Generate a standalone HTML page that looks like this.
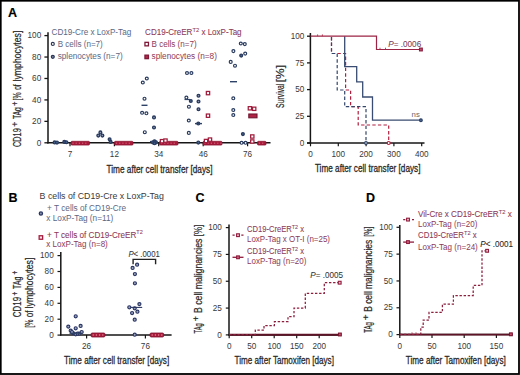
<!DOCTYPE html>
<html><head><meta charset="utf-8"><style>
html,body{margin:0;padding:0;background:#fff;}
svg{display:block;font-family:"Liberation Sans", sans-serif;}
</style></head><body>
<svg width="520" height="375" viewBox="0 0 520 375">
<rect width="520" height="375" fill="#fff"/>
<text x="8" y="16.8" font-size="12.5" fill="#000" stroke="#000" stroke-width="0.15" text-anchor="start" font-weight="bold" font-style="normal" >A</text>
<line x1="48" y1="32.3" x2="48" y2="143.4" stroke="#161616" stroke-width="1.5"/>
<line x1="47.3" y1="142.8" x2="270.5" y2="142.8" stroke="#161616" stroke-width="1.5"/>
<line x1="44.4" y1="142.8" x2="48" y2="142.8" stroke="#161616" stroke-width="1.3"/>
<text x="41.2" y="145.5" font-size="9.8" fill="#383838" text-anchor="end" font-weight="normal" font-style="normal" textLength="4.55" lengthAdjust="spacingAndGlyphs" >0</text>
<line x1="44.4" y1="121.36000000000001" x2="48" y2="121.36000000000001" stroke="#161616" stroke-width="1.3"/>
<text x="41.2" y="124.06000000000002" font-size="9.8" fill="#383838" text-anchor="end" font-weight="normal" font-style="normal" textLength="9.1" lengthAdjust="spacingAndGlyphs" >20</text>
<line x1="44.4" y1="99.92" x2="48" y2="99.92" stroke="#161616" stroke-width="1.3"/>
<text x="41.2" y="102.62" font-size="9.8" fill="#383838" text-anchor="end" font-weight="normal" font-style="normal" textLength="9.1" lengthAdjust="spacingAndGlyphs" >40</text>
<line x1="44.4" y1="78.48" x2="48" y2="78.48" stroke="#161616" stroke-width="1.3"/>
<text x="41.2" y="81.18" font-size="9.8" fill="#383838" text-anchor="end" font-weight="normal" font-style="normal" textLength="9.1" lengthAdjust="spacingAndGlyphs" >60</text>
<line x1="44.4" y1="57.03999999999999" x2="48" y2="57.03999999999999" stroke="#161616" stroke-width="1.3"/>
<text x="41.2" y="59.739999999999995" font-size="9.8" fill="#383838" text-anchor="end" font-weight="normal" font-style="normal" textLength="9.1" lengthAdjust="spacingAndGlyphs" >80</text>
<line x1="44.4" y1="35.599999999999994" x2="48" y2="35.599999999999994" stroke="#161616" stroke-width="1.3"/>
<text x="41.2" y="38.3" font-size="9.8" fill="#383838" text-anchor="end" font-weight="normal" font-style="normal" textLength="13.65" lengthAdjust="spacingAndGlyphs" >100</text>
<line x1="70" y1="142.8" x2="70" y2="146.3" stroke="#161616" stroke-width="1.2"/>
<text x="70" y="156.7" font-size="9.8" fill="#383838" text-anchor="middle" font-weight="normal" font-style="normal" textLength="4.55" lengthAdjust="spacingAndGlyphs" >7</text>
<line x1="114.4" y1="142.8" x2="114.4" y2="146.3" stroke="#161616" stroke-width="1.2"/>
<text x="114.4" y="156.7" font-size="9.8" fill="#383838" text-anchor="middle" font-weight="normal" font-style="normal" textLength="9.1" lengthAdjust="spacingAndGlyphs" >12</text>
<line x1="158.7" y1="142.8" x2="158.7" y2="146.3" stroke="#161616" stroke-width="1.2"/>
<text x="158.7" y="156.7" font-size="9.8" fill="#383838" text-anchor="middle" font-weight="normal" font-style="normal" textLength="9.1" lengthAdjust="spacingAndGlyphs" >34</text>
<line x1="203.2" y1="142.8" x2="203.2" y2="146.3" stroke="#161616" stroke-width="1.2"/>
<text x="203.2" y="156.7" font-size="9.8" fill="#383838" text-anchor="middle" font-weight="normal" font-style="normal" textLength="9.1" lengthAdjust="spacingAndGlyphs" >46</text>
<line x1="247.6" y1="142.8" x2="247.6" y2="146.3" stroke="#161616" stroke-width="1.2"/>
<text x="247.6" y="156.7" font-size="9.8" fill="#383838" text-anchor="middle" font-weight="normal" font-style="normal" textLength="9.1" lengthAdjust="spacingAndGlyphs" >76</text>
<text x="106.5" y="172.7" font-size="10.8" fill="#2a2a2a" stroke="#2a2a2a" stroke-width="0.3" text-anchor="start" font-weight="normal" font-style="normal" textLength="106" lengthAdjust="spacingAndGlyphs" >Time after cell transfer [days]</text>
<text transform="translate(20.8,146.9) rotate(-90)" font-size="10.5" fill="#2a2a2a" stroke="#2a2a2a" stroke-width="0.22"><tspan x="0" y="0" textLength="18.6" lengthAdjust="spacingAndGlyphs">CD19</tspan><tspan x="20.2" y="-3.15" font-size="8.92" textLength="5.0" lengthAdjust="spacingAndGlyphs">+</tspan><tspan x="27.8" y="0" textLength="11.999999999999996" lengthAdjust="spacingAndGlyphs">TAg</tspan><tspan x="41.2" y="-3.15" font-size="8.92" textLength="4.199999999999996" lengthAdjust="spacingAndGlyphs">+</tspan><tspan x="46.5" y="0" textLength="8.0" lengthAdjust="spacingAndGlyphs">[%</tspan><tspan x="57.1" y="0" textLength="5.399999999999999" lengthAdjust="spacingAndGlyphs">of</tspan><tspan x="65.5" y="0" textLength="50.7" lengthAdjust="spacingAndGlyphs">lymphocytes]</tspan></text>
<text x="51.5" y="34.7" font-size="8.5" fill="#5a6784" text-anchor="start" font-weight="normal" font-style="normal" textLength="79.7" lengthAdjust="spacingAndGlyphs" >CD19-Cre x LoxP-Tag</text>
<circle cx="52.8" cy="43.9" r="1.5" fill="#fff" stroke="#2a3556" stroke-width="1.15"/>
<text x="57.7" y="46.5" font-size="8.5" fill="#5a6784" text-anchor="start" font-weight="normal" font-style="normal" textLength="45.1" lengthAdjust="spacingAndGlyphs" >B cells (n=7)</text>
<circle cx="52.8" cy="56.8" r="1.5" fill="#7a86a4" stroke="#2a3556" stroke-width="1.15"/>
<text x="57.7" y="58.9" font-size="8.5" fill="#5a6784" text-anchor="start" font-weight="normal" font-style="normal" textLength="65" lengthAdjust="spacingAndGlyphs" >splenocytes (n=7)</text>
<text x="145.1" y="34.7" font-size="8.5" fill="#8c3a58" stroke="#8c3a58" stroke-width="0.08" textLength="96.5" lengthAdjust="spacingAndGlyphs">CD19-CreER<tspan dy="-3.06" font-size="6.12">T2</tspan><tspan dy="3.06"> x LoxP-Tag</tspan></text>
<rect x="144.95" y="42.35" width="3.5" height="3.5" fill="#fff" stroke="#7e1a38" stroke-width="1.3"/>
<text x="151.5" y="46.5" font-size="8.5" fill="#8c3a58" text-anchor="start" font-weight="normal" font-style="normal" textLength="45.1" lengthAdjust="spacingAndGlyphs" >B cells (n=7)</text>
<rect x="144.95" y="55.15" width="3.5" height="3.5" fill="#b02a48" stroke="#7e1a38" stroke-width="1.3"/>
<text x="151.5" y="58.9" font-size="8.5" fill="#8c3a58" text-anchor="start" font-weight="normal" font-style="normal" textLength="65.4" lengthAdjust="spacingAndGlyphs" >splenocytes (n=8)</text>
<circle cx="142.8" cy="82.5" r="1.45" fill="#fff" stroke="#283a5e" stroke-width="1.2"/>
<circle cx="146.8" cy="78.5" r="1.45" fill="#fff" stroke="#283a5e" stroke-width="1.2"/>
<circle cx="144.5" cy="98.7" r="1.45" fill="#fff" stroke="#283a5e" stroke-width="1.2"/>
<circle cx="142.1" cy="112.8" r="1.45" fill="#fff" stroke="#283a5e" stroke-width="1.2"/>
<circle cx="146.4" cy="113.3" r="1.45" fill="#fff" stroke="#283a5e" stroke-width="1.2"/>
<circle cx="144.8" cy="132.2" r="1.45" fill="#fff" stroke="#283a5e" stroke-width="1.2"/>
<circle cx="187.0" cy="73" r="1.45" fill="#fff" stroke="#283a5e" stroke-width="1.2"/>
<circle cx="191.4" cy="73" r="1.45" fill="#fff" stroke="#283a5e" stroke-width="1.2"/>
<circle cx="186.4" cy="97.6" r="1.45" fill="#fff" stroke="#283a5e" stroke-width="1.2"/>
<circle cx="188.9" cy="106.7" r="1.45" fill="#fff" stroke="#283a5e" stroke-width="1.2"/>
<circle cx="188.8" cy="120.5" r="1.45" fill="#fff" stroke="#283a5e" stroke-width="1.2"/>
<circle cx="188.8" cy="132.9" r="1.45" fill="#fff" stroke="#283a5e" stroke-width="1.2"/>
<circle cx="240.8" cy="43.5" r="1.45" fill="#fff" stroke="#283a5e" stroke-width="1.2"/>
<circle cx="244.8" cy="44.1" r="1.45" fill="#fff" stroke="#283a5e" stroke-width="1.2"/>
<circle cx="233.4" cy="51.1" r="1.45" fill="#fff" stroke="#283a5e" stroke-width="1.2"/>
<circle cx="245.2" cy="53.6" r="1.45" fill="#fff" stroke="#283a5e" stroke-width="1.2"/>
<circle cx="230.7" cy="61.9" r="1.45" fill="#fff" stroke="#283a5e" stroke-width="1.2"/>
<circle cx="235" cy="65.7" r="1.45" fill="#fff" stroke="#283a5e" stroke-width="1.2"/>
<circle cx="233.3" cy="98.3" r="1.45" fill="#fff" stroke="#283a5e" stroke-width="1.2"/>
<circle cx="233.3" cy="110" r="1.45" fill="#fff" stroke="#283a5e" stroke-width="1.2"/>
<circle cx="233.3" cy="115" r="1.45" fill="#fff" stroke="#283a5e" stroke-width="1.2"/>
<circle cx="241.6" cy="142.8" r="1.45" fill="#fff" stroke="#283a5e" stroke-width="1.2"/>
<circle cx="245.6" cy="142.8" r="1.45" fill="#fff" stroke="#283a5e" stroke-width="1.2"/>
<circle cx="54.6" cy="142.4" r="1.4" fill="#4a6590" stroke="#283a5e" stroke-width="1.3"/>
<circle cx="57.0" cy="142.6" r="1.4" fill="#4a6590" stroke="#283a5e" stroke-width="1.3"/>
<circle cx="64.3" cy="141.9" r="1.4" fill="#4a6590" stroke="#283a5e" stroke-width="1.3"/>
<circle cx="66.4" cy="142.2" r="1.4" fill="#4a6590" stroke="#283a5e" stroke-width="1.3"/>
<circle cx="100.4" cy="132.4" r="1.4" fill="#8a94b4" stroke="#283a5e" stroke-width="1.3"/>
<circle cx="98.3" cy="135.6" r="1.4" fill="#8a94b4" stroke="#283a5e" stroke-width="1.3"/>
<circle cx="102.4" cy="135.6" r="1.4" fill="#8a94b4" stroke="#283a5e" stroke-width="1.3"/>
<circle cx="109.6" cy="139.3" r="1.4" fill="#4a6590" stroke="#283a5e" stroke-width="1.3"/>
<circle cx="110.6" cy="141.9" r="1.4" fill="#4a6590" stroke="#283a5e" stroke-width="1.3"/>
<circle cx="154" cy="117.4" r="1.4" fill="#8a94b4" stroke="#283a5e" stroke-width="1.3"/>
<circle cx="154" cy="127.5" r="1.4" fill="#8a94b4" stroke="#283a5e" stroke-width="1.3"/>
<circle cx="154.5" cy="141.2" r="1.4" fill="#4a6590" stroke="#283a5e" stroke-width="1.3"/>
<circle cx="153" cy="142.4" r="1.4" fill="#4a6590" stroke="#283a5e" stroke-width="1.3"/>
<circle cx="156" cy="142.4" r="1.4" fill="#4a6590" stroke="#283a5e" stroke-width="1.3"/>
<circle cx="154.5" cy="143.2" r="1.4" fill="#4a6590" stroke="#283a5e" stroke-width="1.3"/>
<circle cx="190.8" cy="101" r="1.4" fill="#4a6590" stroke="#283a5e" stroke-width="1.3"/>
<circle cx="198.5" cy="95.7" r="1.4" fill="#8a94b4" stroke="#283a5e" stroke-width="1.3"/>
<circle cx="198.5" cy="101.5" r="1.4" fill="#8a94b4" stroke="#283a5e" stroke-width="1.3"/>
<circle cx="198.5" cy="109.2" r="1.4" fill="#8a94b4" stroke="#283a5e" stroke-width="1.3"/>
<circle cx="198.3" cy="123.5" r="1.4" fill="#8a94b4" stroke="#283a5e" stroke-width="1.3"/>
<circle cx="198.3" cy="142.6" r="1.4" fill="#4a6590" stroke="#283a5e" stroke-width="1.3"/>
<circle cx="241.2" cy="55.6" r="1.4" fill="#4a6590" stroke="#283a5e" stroke-width="1.3"/>
<circle cx="242.9" cy="134.1" r="1.4" fill="#4a6590" stroke="#283a5e" stroke-width="1.3"/>
<line x1="141.5" y1="105.3" x2="147.5" y2="105.3" stroke="#2d4266" stroke-width="1.4"/>
<line x1="195" y1="123.6" x2="202" y2="123.6" stroke="#2d4266" stroke-width="1.4"/>
<line x1="230" y1="81.7" x2="237" y2="81.7" stroke="#2d4266" stroke-width="1.4"/>
<line x1="150" y1="141.6" x2="157" y2="141.6" stroke="#2d4266" stroke-width="1.4"/>
<line x1="184.5" y1="99.5" x2="190" y2="99.5" stroke="#2d4266" stroke-width="1.2"/>
<rect x="71" y="141.3" width="18.5" height="3.8" rx="0.9" fill="#a81a3a" stroke="#8a1430" stroke-width="0.7"/>
<rect x="72.4" y="142.6" width="1.2" height="1.2" fill="#d05a74"/>
<rect x="75.60000000000001" y="142.6" width="1.2" height="1.2" fill="#d05a74"/>
<rect x="78.80000000000001" y="142.6" width="1.2" height="1.2" fill="#d05a74"/>
<rect x="82.00000000000001" y="142.6" width="1.2" height="1.2" fill="#d05a74"/>
<rect x="85.20000000000002" y="142.6" width="1.2" height="1.2" fill="#d05a74"/>
<rect x="114.5" y="141.3" width="18.5" height="3.8" rx="0.9" fill="#a81a3a" stroke="#8a1430" stroke-width="0.7"/>
<rect x="115.9" y="142.6" width="1.2" height="1.2" fill="#d05a74"/>
<rect x="119.10000000000001" y="142.6" width="1.2" height="1.2" fill="#d05a74"/>
<rect x="122.30000000000001" y="142.6" width="1.2" height="1.2" fill="#d05a74"/>
<rect x="125.50000000000001" y="142.6" width="1.2" height="1.2" fill="#d05a74"/>
<rect x="128.70000000000002" y="142.6" width="1.2" height="1.2" fill="#d05a74"/>
<rect x="159.5" y="141.3" width="18.5" height="3.8" rx="0.9" fill="#a81a3a" stroke="#8a1430" stroke-width="0.7"/>
<rect x="160.9" y="142.6" width="1.2" height="1.2" fill="#d05a74"/>
<rect x="164.1" y="142.6" width="1.2" height="1.2" fill="#d05a74"/>
<rect x="167.29999999999998" y="142.6" width="1.2" height="1.2" fill="#d05a74"/>
<rect x="170.49999999999997" y="142.6" width="1.2" height="1.2" fill="#d05a74"/>
<rect x="173.69999999999996" y="142.6" width="1.2" height="1.2" fill="#d05a74"/>
<rect x="203" y="141.3" width="19" height="3.8" rx="0.9" fill="#a81a3a" stroke="#8a1430" stroke-width="0.7"/>
<rect x="204.4" y="142.6" width="1.2" height="1.2" fill="#d05a74"/>
<rect x="207.6" y="142.6" width="1.2" height="1.2" fill="#d05a74"/>
<rect x="210.79999999999998" y="142.6" width="1.2" height="1.2" fill="#d05a74"/>
<rect x="213.99999999999997" y="142.6" width="1.2" height="1.2" fill="#d05a74"/>
<rect x="217.19999999999996" y="142.6" width="1.2" height="1.2" fill="#d05a74"/>
<rect x="220.39999999999995" y="142.6" width="1.2" height="1.2" fill="#d05a74"/>
<rect x="257.5" y="141.3" width="8.5" height="3.8" rx="0.9" fill="#a81a3a" stroke="#8a1430" stroke-width="0.7"/>
<rect x="258.9" y="142.6" width="1.2" height="1.2" fill="#d05a74"/>
<rect x="262.09999999999997" y="142.6" width="1.2" height="1.2" fill="#d05a74"/>
<rect x="206.35" y="91.44999999999999" width="3.3" height="3.3" fill="#fff" stroke="#a01c3c" stroke-width="1.25"/>
<rect x="206.35" y="114.05" width="3.3" height="3.3" fill="#fff" stroke="#a01c3c" stroke-width="1.25"/>
<rect x="248.25" y="106.64999999999999" width="3.3" height="3.3" fill="#fff" stroke="#a01c3c" stroke-width="1.25"/>
<rect x="252.54999999999998" y="107.14999999999999" width="3.3" height="3.3" fill="#fff" stroke="#a01c3c" stroke-width="1.25"/>
<rect x="250.65" y="134.85" width="3.3" height="3.3" fill="#fff" stroke="#a01c3c" stroke-width="1.25"/>
<rect x="250.65" y="139.85" width="3.3" height="3.3" fill="#fff" stroke="#a01c3c" stroke-width="1.25"/>
<rect x="160.35" y="139.54999999999998" width="3.3" height="3.3" fill="#fff" stroke="#a01c3c" stroke-width="1.25"/>
<rect x="163.85" y="138.95" width="3.3" height="3.3" fill="#fff" stroke="#a01c3c" stroke-width="1.25"/>
<rect x="204.35" y="139.35" width="3.3" height="3.3" fill="#fff" stroke="#a01c3c" stroke-width="1.25"/>
<rect x="208.35" y="137.95" width="3.3" height="3.3" fill="#fff" stroke="#a01c3c" stroke-width="1.25"/>
<rect x="248.8" y="114.0" width="8.2" height="3.8" fill="#b02244" stroke="#701630" stroke-width="1.1"/>
<line x1="310.4" y1="33" x2="310.4" y2="143.6" stroke="#161616" stroke-width="1.5"/>
<line x1="307" y1="143" x2="424.5" y2="143" stroke="#161616" stroke-width="1.5"/>
<line x1="307" y1="143.0" x2="310.4" y2="143.0" stroke="#161616" stroke-width="1.3"/>
<text x="304.3" y="145.7" font-size="9.8" fill="#383838" text-anchor="end" font-weight="normal" font-style="normal" textLength="4.55" lengthAdjust="spacingAndGlyphs" >0</text>
<line x1="307" y1="116.3" x2="310.4" y2="116.3" stroke="#161616" stroke-width="1.3"/>
<text x="304.3" y="119.0" font-size="9.8" fill="#383838" text-anchor="end" font-weight="normal" font-style="normal" textLength="9.1" lengthAdjust="spacingAndGlyphs" >25</text>
<line x1="307" y1="89.6" x2="310.4" y2="89.6" stroke="#161616" stroke-width="1.3"/>
<text x="304.3" y="92.3" font-size="9.8" fill="#383838" text-anchor="end" font-weight="normal" font-style="normal" textLength="9.1" lengthAdjust="spacingAndGlyphs" >50</text>
<line x1="307" y1="62.89999999999999" x2="310.4" y2="62.89999999999999" stroke="#161616" stroke-width="1.3"/>
<text x="304.3" y="65.6" font-size="9.8" fill="#383838" text-anchor="end" font-weight="normal" font-style="normal" textLength="9.1" lengthAdjust="spacingAndGlyphs" >75</text>
<line x1="307" y1="36.19999999999999" x2="310.4" y2="36.19999999999999" stroke="#161616" stroke-width="1.3"/>
<text x="304.3" y="38.89999999999999" font-size="9.8" fill="#383838" text-anchor="end" font-weight="normal" font-style="normal" textLength="13.65" lengthAdjust="spacingAndGlyphs" >100</text>
<line x1="310.5" y1="143" x2="310.5" y2="146.3" stroke="#161616" stroke-width="1.2"/>
<text x="310.5" y="156.7" font-size="9.8" fill="#383838" text-anchor="middle" font-weight="normal" font-style="normal" textLength="4.55" lengthAdjust="spacingAndGlyphs" >0</text>
<line x1="338.3" y1="143" x2="338.3" y2="146.3" stroke="#161616" stroke-width="1.2"/>
<text x="338.3" y="156.7" font-size="9.8" fill="#383838" text-anchor="middle" font-weight="normal" font-style="normal" textLength="13.65" lengthAdjust="spacingAndGlyphs" >100</text>
<line x1="366.1" y1="143" x2="366.1" y2="146.3" stroke="#161616" stroke-width="1.2"/>
<text x="366.1" y="156.7" font-size="9.8" fill="#383838" text-anchor="middle" font-weight="normal" font-style="normal" textLength="13.65" lengthAdjust="spacingAndGlyphs" >200</text>
<line x1="393.9" y1="143" x2="393.9" y2="146.3" stroke="#161616" stroke-width="1.2"/>
<text x="393.9" y="156.7" font-size="9.8" fill="#383838" text-anchor="middle" font-weight="normal" font-style="normal" textLength="13.65" lengthAdjust="spacingAndGlyphs" >300</text>
<line x1="421.70000000000005" y1="143" x2="421.70000000000005" y2="146.3" stroke="#161616" stroke-width="1.2"/>
<text x="421.70000000000005" y="156.7" font-size="9.8" fill="#383838" text-anchor="middle" font-weight="normal" font-style="normal" textLength="13.65" lengthAdjust="spacingAndGlyphs" >400</text>
<text x="314.9" y="172.4" font-size="10.8" fill="#2a2a2a" stroke="#2a2a2a" stroke-width="0.3" text-anchor="start" font-weight="normal" font-style="normal" textLength="105.6" lengthAdjust="spacingAndGlyphs" >Time after cell transfer [days]</text>
<text transform="translate(283.6,107.9) rotate(-90)" font-size="10.5" fill="#2a2a2a" stroke="#2a2a2a" stroke-width="0.22"><tspan x="0" y="0" textLength="24.3" lengthAdjust="spacingAndGlyphs">Survival</tspan><tspan x="25.7" y="0" textLength="17.3" lengthAdjust="spacingAndGlyphs">[%]</tspan></text>
<polyline points="331.5,37 331.5,53.5 345.6,53.5 345.6,90 350.6,90 350.6,106.7 358.2,106.7 358.2,125 388.7,125 388.7,141.3" fill="none" stroke="#b21f3e" stroke-width="1.2" stroke-dasharray="3.4,2.2" stroke-linejoin="miter"/>
<polyline points="331.5,37 331.5,53.5 337.2,53.5 337.2,90 344.7,90 344.7,106.7 366,106.7 366,141.3" fill="none" stroke="#34466a" stroke-width="1.2" stroke-dasharray="3.4,2.2" stroke-linejoin="miter"/>
<polyline points="344.7,36.2 344.7,66.6 356.7,66.6 356.7,81.9 362.7,81.9 362.7,97 372.5,97 372.5,120.2 420.5,120.2" fill="none" stroke="#3a4c72" stroke-width="1.3" stroke-linejoin="miter"/>
<polyline points="310.5,36.2 376.5,36.2 376.5,49.5 420.5,49.5" fill="none" stroke="#9c2444" stroke-width="1.2" stroke-linejoin="miter"/>
<line x1="317.6" y1="34.400000000000006" x2="317.6" y2="36.2" stroke="#b3213f" stroke-width="0.8"/>
<line x1="322.4" y1="34.400000000000006" x2="322.4" y2="36.2" stroke="#b3213f" stroke-width="0.8"/>
<line x1="380" y1="47.7" x2="380" y2="49.5" stroke="#b3213f" stroke-width="0.8"/>
<line x1="385.5" y1="47.7" x2="385.5" y2="49.5" stroke="#b3213f" stroke-width="0.8"/>
<rect x="419.5" y="48.1" width="2.8" height="2.8" fill="#c05070" stroke="#8a1c3c" stroke-width="1.1"/>
<circle cx="420.9" cy="120.2" r="1.35" fill="#5873a0" stroke="#2d4266" stroke-width="1.2"/>
<circle cx="366" cy="143" r="1.35" fill="#fff" stroke="#2d4266" stroke-width="1.2"/>
<circle cx="388.7" cy="143" r="1.5" fill="#fff" stroke="#b3213f" stroke-width="1.2"/>
<text x="388.2" y="46.6" font-size="8.2" fill="#7a3a55" stroke="#7a3a55" stroke-width="0.05" textLength="33" lengthAdjust="spacingAndGlyphs"><tspan font-style="italic">P</tspan>= .0006</text>
<text x="411.6" y="117.2" font-size="8" fill="#666" text-anchor="start" font-weight="normal" font-style="normal" textLength="8.2" lengthAdjust="spacingAndGlyphs" >ns</text>
<text x="8.4" y="202" font-size="12.5" fill="#000" stroke="#000" stroke-width="0.15" text-anchor="start" font-weight="bold" font-style="normal" >B</text>
<text x="39.6" y="199" font-size="9" fill="#3a3a3a" text-anchor="start" font-weight="normal" font-style="normal" textLength="124.2" lengthAdjust="spacingAndGlyphs" >B cells of CD19-Cre x LoxP-Tag</text>
<circle cx="40.9" cy="213.5" r="1.6" fill="#8a94b4" stroke="#2a3562" stroke-width="1.35"/>
<text x="47.1" y="211.1" font-size="8.5" fill="#5a6784" text-anchor="start" font-weight="normal" font-style="normal" textLength="79" lengthAdjust="spacingAndGlyphs" >+ T cells of CD19-Cre</text>
<text x="46.3" y="220.8" font-size="8.5" fill="#5a6784" text-anchor="start" font-weight="normal" font-style="normal" textLength="67" lengthAdjust="spacingAndGlyphs" >x LoxP-Tag (n=11)</text>
<rect x="39.15" y="235.75" width="3.5" height="3.5" fill="#fbe4ea" stroke="#a51d3e" stroke-width="1.3"/>
<text x="47.1" y="237.6" font-size="8.5" fill="#8c3a58" stroke="#8c3a58" stroke-width="0.08" textLength="95.7" lengthAdjust="spacingAndGlyphs">+ T cells of CD19-CreER<tspan dy="-3.23" font-size="5.78">T2</tspan><tspan dy="3.23"></tspan></text>
<text x="46.3" y="246.5" font-size="8.5" fill="#8c3a58" text-anchor="start" font-weight="normal" font-style="normal" textLength="61.5" lengthAdjust="spacingAndGlyphs" >x LoxP-Tag (n=8)</text>
<line x1="60.8" y1="252.1" x2="60.8" y2="335.4" stroke="#161616" stroke-width="1.5"/>
<line x1="60.1" y1="335.1" x2="171.6" y2="335.1" stroke="#161616" stroke-width="1.5"/>
<line x1="57.5" y1="335.1" x2="60.8" y2="335.1" stroke="#161616" stroke-width="1.2"/>
<text x="53.7" y="337.8" font-size="9.8" fill="#383838" text-anchor="end" font-weight="normal" font-style="normal" textLength="4.55" lengthAdjust="spacingAndGlyphs" >0</text>
<line x1="57.5" y1="319.20000000000005" x2="60.8" y2="319.20000000000005" stroke="#161616" stroke-width="1.2"/>
<text x="53.7" y="321.90000000000003" font-size="9.8" fill="#383838" text-anchor="end" font-weight="normal" font-style="normal" textLength="9.1" lengthAdjust="spacingAndGlyphs" >20</text>
<line x1="57.5" y1="303.3" x2="60.8" y2="303.3" stroke="#161616" stroke-width="1.2"/>
<text x="53.7" y="306.0" font-size="9.8" fill="#383838" text-anchor="end" font-weight="normal" font-style="normal" textLength="9.1" lengthAdjust="spacingAndGlyphs" >40</text>
<line x1="57.5" y1="287.4" x2="60.8" y2="287.4" stroke="#161616" stroke-width="1.2"/>
<text x="53.7" y="290.09999999999997" font-size="9.8" fill="#383838" text-anchor="end" font-weight="normal" font-style="normal" textLength="9.1" lengthAdjust="spacingAndGlyphs" >60</text>
<line x1="57.5" y1="271.5" x2="60.8" y2="271.5" stroke="#161616" stroke-width="1.2"/>
<text x="53.7" y="274.2" font-size="9.8" fill="#383838" text-anchor="end" font-weight="normal" font-style="normal" textLength="9.1" lengthAdjust="spacingAndGlyphs" >80</text>
<line x1="57.5" y1="255.6" x2="60.8" y2="255.6" stroke="#161616" stroke-width="1.2"/>
<text x="53.7" y="258.3" font-size="9.8" fill="#383838" text-anchor="end" font-weight="normal" font-style="normal" textLength="13.65" lengthAdjust="spacingAndGlyphs" >100</text>
<line x1="86.6" y1="335.1" x2="86.6" y2="338.5" stroke="#161616" stroke-width="1.2"/>
<text x="86.6" y="348.59999999999997" font-size="9.8" fill="#383838" text-anchor="middle" font-weight="normal" font-style="normal" textLength="9.1" lengthAdjust="spacingAndGlyphs" >26</text>
<line x1="145.4" y1="335.1" x2="145.4" y2="338.5" stroke="#161616" stroke-width="1.2"/>
<text x="145.4" y="348.59999999999997" font-size="9.8" fill="#383838" text-anchor="middle" font-weight="normal" font-style="normal" textLength="9.1" lengthAdjust="spacingAndGlyphs" >76</text>
<text x="64" y="364" font-size="10.8" fill="#2a2a2a" stroke="#2a2a2a" stroke-width="0.3" text-anchor="start" font-weight="normal" font-style="normal" textLength="105.2" lengthAdjust="spacingAndGlyphs" >Time after cell transfer [days]</text>
<text transform="translate(20.9,317.2) rotate(-90)" font-size="11" fill="#2a2a2a" stroke="#2a2a2a" stroke-width="0.22"><tspan x="0" y="0" textLength="20.3" lengthAdjust="spacingAndGlyphs">CD19</tspan><tspan x="21.6" y="-3.30" font-size="9.35" textLength="3.799999999999997" lengthAdjust="spacingAndGlyphs">+</tspan><tspan x="28.2" y="0" textLength="12.400000000000002" lengthAdjust="spacingAndGlyphs">TAg</tspan><tspan x="42.6" y="-3.30" font-size="9.35" textLength="3.799999999999997" lengthAdjust="spacingAndGlyphs">+</tspan></text>
<text transform="translate(32.7,327.8) rotate(-90)" font-size="10.2" fill="#2a2a2a" stroke="#2a2a2a" stroke-width="0.22"><tspan x="0" y="0" textLength="8.2" lengthAdjust="spacingAndGlyphs">[%</tspan><tspan x="10.6" y="0" textLength="6.799999999999999" lengthAdjust="spacingAndGlyphs">of</tspan><tspan x="19.4" y="0" textLength="50.800000000000004" lengthAdjust="spacingAndGlyphs">lymphocytes]</tspan></text>
<text x="128.4" y="257.2" font-size="8.5" fill="#333" stroke="#333" stroke-width="0.05" textLength="31.4" lengthAdjust="spacingAndGlyphs"><tspan font-style="italic">P</tspan>&lt; .0001</text>
<polyline points="133.1,264.3 133.1,259.4 155.6,259.4 155.6,264.3" fill="none" stroke="#222" stroke-width="1.4" stroke-linejoin="miter"/>
<circle cx="75.7" cy="316.3" r="1.55" fill="#9aa3c0" stroke="#2a3562" stroke-width="1.15"/>
<circle cx="68.3" cy="326.6" r="1.55" fill="#9aa3c0" stroke="#2a3562" stroke-width="1.15"/>
<circle cx="75.7" cy="328.3" r="1.55" fill="#9aa3c0" stroke="#2a3562" stroke-width="1.15"/>
<circle cx="80.6" cy="325.9" r="1.55" fill="#9aa3c0" stroke="#2a3562" stroke-width="1.15"/>
<circle cx="70.7" cy="330.7" r="1.55" fill="#9aa3c0" stroke="#2a3562" stroke-width="1.15"/>
<circle cx="73" cy="333" r="1.55" fill="#9aa3c0" stroke="#2a3562" stroke-width="1.15"/>
<circle cx="75.7" cy="334.3" r="1.55" fill="#9aa3c0" stroke="#2a3562" stroke-width="1.15"/>
<circle cx="79" cy="333.7" r="1.55" fill="#9aa3c0" stroke="#2a3562" stroke-width="1.15"/>
<circle cx="81.7" cy="332" r="1.55" fill="#9aa3c0" stroke="#2a3562" stroke-width="1.15"/>
<circle cx="77.5" cy="333.6" r="1.55" fill="#9aa3c0" stroke="#2a3562" stroke-width="1.15"/>
<circle cx="72" cy="332" r="1.55" fill="#9aa3c0" stroke="#2a3562" stroke-width="1.15"/>
<circle cx="137.1" cy="264.7" r="1.55" fill="#9aa3c0" stroke="#2a3562" stroke-width="1.15"/>
<circle cx="132.6" cy="267.9" r="1.55" fill="#9aa3c0" stroke="#2a3562" stroke-width="1.15"/>
<circle cx="134.9" cy="274" r="1.55" fill="#9aa3c0" stroke="#2a3562" stroke-width="1.15"/>
<circle cx="134.9" cy="283.3" r="1.55" fill="#9aa3c0" stroke="#2a3562" stroke-width="1.15"/>
<circle cx="139.4" cy="304.1" r="1.55" fill="#9aa3c0" stroke="#2a3562" stroke-width="1.15"/>
<circle cx="129.3" cy="307.3" r="1.55" fill="#9aa3c0" stroke="#2a3562" stroke-width="1.15"/>
<circle cx="134.7" cy="308.3" r="1.55" fill="#9aa3c0" stroke="#2a3562" stroke-width="1.15"/>
<circle cx="137.4" cy="311.7" r="1.55" fill="#9aa3c0" stroke="#2a3562" stroke-width="1.15"/>
<circle cx="132.1" cy="313" r="1.55" fill="#9aa3c0" stroke="#2a3562" stroke-width="1.15"/>
<circle cx="134.7" cy="319.7" r="1.55" fill="#9aa3c0" stroke="#2a3562" stroke-width="1.15"/>
<circle cx="134.7" cy="334.7" r="1.55" fill="#9aa3c0" stroke="#2a3562" stroke-width="1.15"/>
<line x1="131" y1="307.4" x2="142.2" y2="307.4" stroke="#2a3562" stroke-width="1.1"/>
<line x1="69.5" y1="333.3" x2="82" y2="333.3" stroke="#2d4266" stroke-width="1.1"/>
<rect x="91" y="333.0" width="14" height="4.0" rx="1.2" fill="#a81c3c" stroke="#801230" stroke-width="0.8"/>
<rect x="92.60000000000001" y="334.4" width="1.2" height="1.2" fill="#f08a9e"/>
<rect x="95.80000000000001" y="334.4" width="1.2" height="1.2" fill="#f08a9e"/>
<rect x="99.00000000000001" y="334.4" width="1.2" height="1.2" fill="#f08a9e"/>
<rect x="102.20000000000002" y="334.4" width="1.2" height="1.2" fill="#f08a9e"/>
<rect x="150" y="333.0" width="13.699999999999989" height="4.0" rx="1.2" fill="#a81c3c" stroke="#801230" stroke-width="0.8"/>
<rect x="151.6" y="334.4" width="1.2" height="1.2" fill="#f08a9e"/>
<rect x="154.79999999999998" y="334.4" width="1.2" height="1.2" fill="#f08a9e"/>
<rect x="157.99999999999997" y="334.4" width="1.2" height="1.2" fill="#f08a9e"/>
<rect x="161.19999999999996" y="334.4" width="1.2" height="1.2" fill="#f08a9e"/>
<text x="195.6" y="202.3" font-size="12.5" fill="#000" stroke="#000" stroke-width="0.15" text-anchor="start" font-weight="bold" font-style="normal" >C</text>
<line x1="229" y1="224.4" x2="229" y2="335.5" stroke="#161616" stroke-width="1.5"/>
<line x1="225.8" y1="334.9" x2="229" y2="334.9" stroke="#161616" stroke-width="1.2"/>
<text x="221.8" y="337.59999999999997" font-size="9.8" fill="#383838" text-anchor="end" font-weight="normal" font-style="normal" textLength="4.55" lengthAdjust="spacingAndGlyphs" >0</text>
<line x1="225.8" y1="308.075" x2="229" y2="308.075" stroke="#161616" stroke-width="1.2"/>
<text x="221.8" y="310.775" font-size="9.8" fill="#383838" text-anchor="end" font-weight="normal" font-style="normal" textLength="9.1" lengthAdjust="spacingAndGlyphs" >25</text>
<line x1="225.8" y1="281.25" x2="229" y2="281.25" stroke="#161616" stroke-width="1.2"/>
<text x="221.8" y="283.95" font-size="9.8" fill="#383838" text-anchor="end" font-weight="normal" font-style="normal" textLength="9.1" lengthAdjust="spacingAndGlyphs" >50</text>
<line x1="225.8" y1="254.42499999999998" x2="229" y2="254.42499999999998" stroke="#161616" stroke-width="1.2"/>
<text x="221.8" y="257.125" font-size="9.8" fill="#383838" text-anchor="end" font-weight="normal" font-style="normal" textLength="9.1" lengthAdjust="spacingAndGlyphs" >75</text>
<line x1="225.8" y1="227.6" x2="229" y2="227.6" stroke="#161616" stroke-width="1.2"/>
<text x="221.8" y="230.29999999999998" font-size="9.8" fill="#383838" text-anchor="end" font-weight="normal" font-style="normal" textLength="13.65" lengthAdjust="spacingAndGlyphs" >100</text>
<line x1="229.2" y1="334.9" x2="229.2" y2="338.3" stroke="#161616" stroke-width="1.2"/>
<text x="229.2" y="348.59999999999997" font-size="9.8" fill="#383838" text-anchor="middle" font-weight="normal" font-style="normal" textLength="4.55" lengthAdjust="spacingAndGlyphs" >0</text>
<line x1="251.7" y1="334.9" x2="251.7" y2="338.3" stroke="#161616" stroke-width="1.2"/>
<text x="251.7" y="348.59999999999997" font-size="9.8" fill="#383838" text-anchor="middle" font-weight="normal" font-style="normal" textLength="9.1" lengthAdjust="spacingAndGlyphs" >50</text>
<line x1="274.2" y1="334.9" x2="274.2" y2="338.3" stroke="#161616" stroke-width="1.2"/>
<text x="274.2" y="348.59999999999997" font-size="9.8" fill="#383838" text-anchor="middle" font-weight="normal" font-style="normal" textLength="13.65" lengthAdjust="spacingAndGlyphs" >100</text>
<line x1="296.7" y1="334.9" x2="296.7" y2="338.3" stroke="#161616" stroke-width="1.2"/>
<text x="296.7" y="348.59999999999997" font-size="9.8" fill="#383838" text-anchor="middle" font-weight="normal" font-style="normal" textLength="13.65" lengthAdjust="spacingAndGlyphs" >150</text>
<line x1="319.2" y1="334.9" x2="319.2" y2="338.3" stroke="#161616" stroke-width="1.2"/>
<text x="319.2" y="348.59999999999997" font-size="9.8" fill="#383838" text-anchor="middle" font-weight="normal" font-style="normal" textLength="13.65" lengthAdjust="spacingAndGlyphs" >200</text>
<line x1="228.3" y1="334.9" x2="340" y2="334.9" stroke="#161616" stroke-width="1.5"/>
<text x="234.6" y="364.2" font-size="10.8" fill="#2a2a2a" stroke="#2a2a2a" stroke-width="0.3" text-anchor="start" font-weight="normal" font-style="normal" textLength="99.3" lengthAdjust="spacingAndGlyphs" >Time after Tamoxifen [days]</text>
<text transform="translate(202.2,333.4) rotate(-90)" font-size="10.5" fill="#2a2a2a" stroke="#2a2a2a" stroke-width="0.22"><tspan x="0" y="0" textLength="10.2" lengthAdjust="spacingAndGlyphs">TAg</tspan><tspan x="12.2" y="-3.15" font-size="8.92" textLength="5.199999999999999" lengthAdjust="spacingAndGlyphs">+</tspan><tspan x="20.4" y="0" textLength="74.4" lengthAdjust="spacingAndGlyphs">B cell malignancies</tspan><tspan x="97.2" y="0" textLength="11.399999999999991" lengthAdjust="spacingAndGlyphs">[%]</tspan></text>
<line x1="232.5" y1="235.2" x2="243.5" y2="235.2" stroke="#8c1e3e" stroke-width="1.2" stroke-dasharray="2.2,2.2"/>
<rect x="236.6" y="233.79999999999998" width="2.8" height="2.8" fill="#f2c4cf" stroke="#8e1c3c" stroke-width="1.1"/>
<line x1="232.5" y1="257.3" x2="243.5" y2="257.3" stroke="#8e1c3c" stroke-width="1.3"/>
<rect x="236.6" y="255.9" width="2.8" height="2.8" fill="#d06a84" stroke="#8e1c3c" stroke-width="1.1"/>
<text x="247" y="232.2" font-size="8.3" fill="#8c3a58" stroke="#8c3a58" stroke-width="0.08" textLength="57" lengthAdjust="spacingAndGlyphs">CD19-CreER<tspan dy="-2.99" font-size="5.98">T2</tspan><tspan dy="2.99"> x</tspan></text>
<text x="247" y="242.2" font-size="8.3" fill="#8c3a58" text-anchor="start" font-weight="normal" font-style="normal" textLength="83" lengthAdjust="spacingAndGlyphs" >LoxP-Tag x OT-I (n=25)</text>
<text x="247" y="254.3" font-size="8.3" fill="#8c3a58" stroke="#8c3a58" stroke-width="0.08" textLength="57" lengthAdjust="spacingAndGlyphs">CD19-CreER<tspan dy="-2.99" font-size="5.98">T2</tspan><tspan dy="2.99"> x</tspan></text>
<text x="247" y="264.1" font-size="8.3" fill="#8c3a58" text-anchor="start" font-weight="normal" font-style="normal" textLength="59.4" lengthAdjust="spacingAndGlyphs" >LoxP-Tag (n=20)</text>
<line x1="229.2" y1="334.7" x2="339.7" y2="334.7" stroke="#5e1426" stroke-width="1.9"/>
<polyline points="229.2,334.6 255.3,334.6 255.3,330 264,330 264,325.6 274.4,325.6 274.4,321.6 288,321.6 288,316.7 294,316.7 294,308 305.3,308 305.3,293.3 324.3,293.3 324.3,282.7 338.2,282.7" fill="none" stroke="#8c1e3e" stroke-width="1.25" stroke-dasharray="2.4,1.7" stroke-linejoin="miter"/>
<rect x="338.3" y="281.3" width="2.8" height="2.8" fill="#f2c4cf" stroke="#8e1c3c" stroke-width="1.1"/>
<rect x="338.5" y="333.1" width="2.8" height="2.8" fill="#c85070" stroke="#7a1530" stroke-width="1.1"/>
<text x="310.3" y="277.9" font-size="8.3" fill="#333" stroke="#333" stroke-width="0.05" textLength="32.7" lengthAdjust="spacingAndGlyphs"><tspan font-style="italic">P</tspan>= .0005</text>
<text x="366" y="202.1" font-size="12.5" fill="#000" stroke="#000" stroke-width="0.15" text-anchor="start" font-weight="bold" font-style="normal" >D</text>
<line x1="399.8" y1="225.1" x2="399.8" y2="335.2" stroke="#161616" stroke-width="1.5"/>
<line x1="396.5" y1="334.6" x2="399.8" y2="334.6" stroke="#161616" stroke-width="1.2"/>
<text x="392.8" y="337.3" font-size="9.8" fill="#383838" text-anchor="end" font-weight="normal" font-style="normal" textLength="4.55" lengthAdjust="spacingAndGlyphs" >0</text>
<line x1="396.5" y1="307.77500000000003" x2="399.8" y2="307.77500000000003" stroke="#161616" stroke-width="1.2"/>
<text x="392.8" y="310.475" font-size="9.8" fill="#383838" text-anchor="end" font-weight="normal" font-style="normal" textLength="9.1" lengthAdjust="spacingAndGlyphs" >25</text>
<line x1="396.5" y1="280.95000000000005" x2="399.8" y2="280.95000000000005" stroke="#161616" stroke-width="1.2"/>
<text x="392.8" y="283.65000000000003" font-size="9.8" fill="#383838" text-anchor="end" font-weight="normal" font-style="normal" textLength="9.1" lengthAdjust="spacingAndGlyphs" >50</text>
<line x1="396.5" y1="254.125" x2="399.8" y2="254.125" stroke="#161616" stroke-width="1.2"/>
<text x="392.8" y="256.825" font-size="9.8" fill="#383838" text-anchor="end" font-weight="normal" font-style="normal" textLength="9.1" lengthAdjust="spacingAndGlyphs" >75</text>
<line x1="396.5" y1="227.3" x2="399.8" y2="227.3" stroke="#161616" stroke-width="1.2"/>
<text x="392.8" y="230.0" font-size="9.8" fill="#383838" text-anchor="end" font-weight="normal" font-style="normal" textLength="13.65" lengthAdjust="spacingAndGlyphs" >100</text>
<line x1="399.8" y1="334.6" x2="399.8" y2="338" stroke="#161616" stroke-width="1.2"/>
<text x="399.8" y="348.59999999999997" font-size="9.8" fill="#383838" text-anchor="middle" font-weight="normal" font-style="normal" textLength="4.55" lengthAdjust="spacingAndGlyphs" >0</text>
<line x1="432.0" y1="334.6" x2="432.0" y2="338" stroke="#161616" stroke-width="1.2"/>
<text x="432.0" y="348.59999999999997" font-size="9.8" fill="#383838" text-anchor="middle" font-weight="normal" font-style="normal" textLength="9.1" lengthAdjust="spacingAndGlyphs" >50</text>
<line x1="464.20000000000005" y1="334.6" x2="464.20000000000005" y2="338" stroke="#161616" stroke-width="1.2"/>
<text x="464.20000000000005" y="348.59999999999997" font-size="9.8" fill="#383838" text-anchor="middle" font-weight="normal" font-style="normal" textLength="13.65" lengthAdjust="spacingAndGlyphs" >100</text>
<line x1="496.40000000000003" y1="334.6" x2="496.40000000000003" y2="338" stroke="#161616" stroke-width="1.2"/>
<text x="496.40000000000003" y="348.59999999999997" font-size="9.8" fill="#383838" text-anchor="middle" font-weight="normal" font-style="normal" textLength="13.65" lengthAdjust="spacingAndGlyphs" >150</text>
<line x1="399" y1="334.6" x2="512.6" y2="334.6" stroke="#161616" stroke-width="1.5"/>
<text x="405.8" y="364.2" font-size="10.8" fill="#2a2a2a" stroke="#2a2a2a" stroke-width="0.3" text-anchor="start" font-weight="normal" font-style="normal" textLength="100" lengthAdjust="spacingAndGlyphs" >Time after Tamoxifen [days]</text>
<text transform="translate(372.4,332.7) rotate(-90)" font-size="10.5" fill="#2a2a2a" stroke="#2a2a2a" stroke-width="0.22"><tspan x="0" y="0" textLength="10.7" lengthAdjust="spacingAndGlyphs">TAg</tspan><tspan x="12.4" y="-3.15" font-size="8.92" textLength="5.799999999999999" lengthAdjust="spacingAndGlyphs">+</tspan><tspan x="20.9" y="0" textLength="72.0" lengthAdjust="spacingAndGlyphs">B cell malignancies</tspan><tspan x="95.9" y="0" textLength="10.199999999999989" lengthAdjust="spacingAndGlyphs">[%]</tspan></text>
<line x1="403.2" y1="219.6" x2="414" y2="219.6" stroke="#8c1e3e" stroke-width="1.2" stroke-dasharray="2.2,2.2"/>
<rect x="406.6" y="218.2" width="2.8" height="2.8" fill="#f2c4cf" stroke="#8e1c3c" stroke-width="1.1"/>
<line x1="403.2" y1="242.1" x2="414" y2="242.1" stroke="#8e1c3c" stroke-width="1.3"/>
<rect x="406.6" y="240.7" width="2.8" height="2.8" fill="#d06a84" stroke="#8e1c3c" stroke-width="1.1"/>
<text x="418" y="217.2" font-size="8.3" fill="#8c3a58" stroke="#8c3a58" stroke-width="0.08" textLength="93.8" lengthAdjust="spacingAndGlyphs">Vil-Cre x CD19-CreER<tspan dy="-2.99" font-size="5.98">T2</tspan><tspan dy="2.99"> x</tspan></text>
<text x="418" y="227.3" font-size="8.3" fill="#8c3a58" text-anchor="start" font-weight="normal" font-style="normal" textLength="59.3" lengthAdjust="spacingAndGlyphs" >LoxP-Tag (n=20)</text>
<text x="418" y="238.3" font-size="8.3" fill="#8c3a58" stroke="#8c3a58" stroke-width="0.08" textLength="58.6" lengthAdjust="spacingAndGlyphs">CD19-CreER<tspan dy="-2.99" font-size="5.98">T2</tspan><tspan dy="2.99"> x</tspan></text>
<text x="418" y="249.6" font-size="8.3" fill="#8c3a58" text-anchor="start" font-weight="normal" font-style="normal" textLength="59.8" lengthAdjust="spacingAndGlyphs" >LoxP-Tag (n=24)</text>
<text x="480.2" y="246.9" font-size="8.3" fill="#222" stroke="#222" stroke-width="0.05" textLength="32.8" lengthAdjust="spacingAndGlyphs"><tspan font-style="italic">P</tspan>&lt; .0001</text>
<line x1="399.8" y1="334.6" x2="511" y2="334.6" stroke="#5e1426" stroke-width="1.9"/>
<polyline points="399.8,334.3 420.8,334.3 420.8,327.2 423.2,327.2 423.2,320 429,320 429,312.4 442.4,312.4 442.4,304.2 453.4,304.2 453.4,295.6 473.2,295.6 473.2,285.3 482,285.3 482,250.8 485.5,250.8" fill="none" stroke="#8c1e3e" stroke-width="1.25" stroke-dasharray="2.4,1.7" stroke-linejoin="miter"/>
<line x1="412" y1="332.3" x2="412" y2="334.5" stroke="#b3213f" stroke-width="0.8"/>
<line x1="416" y1="332.3" x2="416" y2="334.5" stroke="#b3213f" stroke-width="0.8"/>
<rect x="485.70000000000005" y="249.4" width="2.8" height="2.8" fill="#f2c4cf" stroke="#8e1c3c" stroke-width="1.1"/>
<rect x="509.5" y="332.90000000000003" width="2.8" height="2.8" fill="#c85070" stroke="#7a1530" stroke-width="1.1"/>
<rect x="0.75" y="0.75" width="518.25" height="373.25" fill="none" stroke="#000" stroke-width="1.8"/>
</svg>
</body></html>
